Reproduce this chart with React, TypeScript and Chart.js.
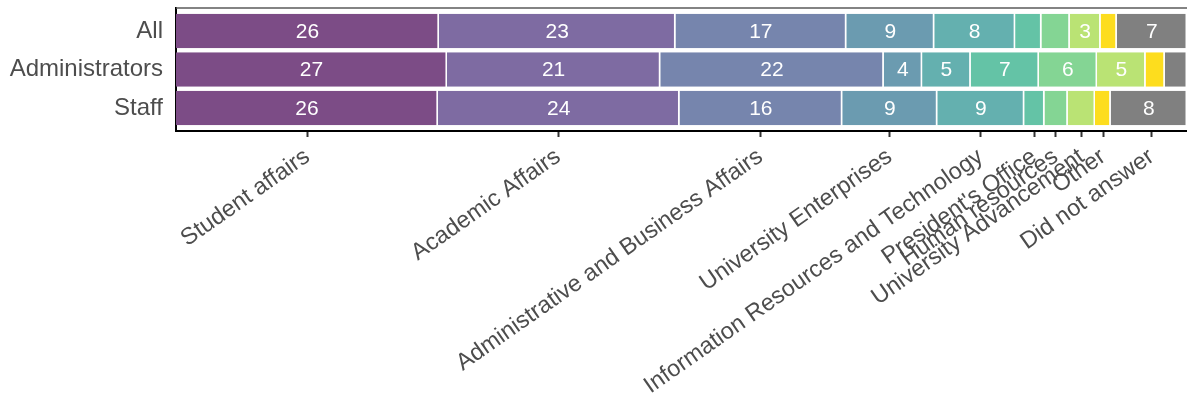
import React, { useEffect, useRef } from 'react';
import { Chart, registerables } from 'chart.js';

Chart.register(...registerables);

const FONT = '"Liberation Sans", Arial, Helvetica, sans-serif';

const groups = ['All', 'Administrators', 'Staff'];
const categories = [
  'Student affairs',
  'Academic Affairs',
  'Administrative and Business Affairs',
  'University Enterprises',
  'Information Resources and Technology',
  "President's Office",
  'Human resources',
  'University Advancement',
  'Other',
  'Did not answer',
];
const allValues = [26.0, 23.4, 16.9, 8.7, 8.0, 2.6, 2.8, 3.05, 1.6, 6.95];
const adminValues = [26.8, 21.1, 22.1, 3.8, 4.8, 6.75, 5.75, 4.8, 1.9, 2.2];
const staffValues = [25.9, 23.9, 16.1, 9.4, 8.6, 2.0, 2.3, 2.7, 1.55, 7.55];
const tickPositions = [13.0, 37.8, 57.8, 70.6, 79.6, 84.9, 87.0, 89.6, 91.7, 96.5];
const colors = [
  '#7c4c86',
  '#7e6ba2',
  '#7685ad',
  '#6b9bb0',
  '#64b0af',
  '#64c3a6',
  '#84d594',
  '#bae374',
  '#fddd1e',
  '#808080',
];
const labelMin = 3;

const groupValues = [allValues, adminValues, staffValues];

const labelPlugin = {
  id: 'barLabels',
  afterDatasetsDraw(chart: any) {
    const ctx = chart.ctx;
    ctx.save();
    ctx.font = `21px ${FONT}`;
    ctx.fillStyle = '#ffffff';
    ctx.textAlign = 'center';
    ctx.textBaseline = 'middle';
    chart.data.datasets.forEach((ds: any, i: number) => {
      const meta = chart.getDatasetMeta(i);
      meta.data.forEach((el: any, j: number) => {
        const v = ds.data[j].x;
        if (v < labelMin) return;
        const p = el.getProps(['x', 'y', 'base'], true);
        ctx.fillText(String(Math.round(v)), (p.x + p.base) / 2, p.y + 1);
      });
    });
    const a = chart.chartArea;
    ctx.strokeStyle = '#5a5a5a';
    ctx.lineWidth = 1.5;
    ctx.beginPath();
    ctx.moveTo(a.left, a.top);
    ctx.lineTo(a.right, a.top);
    ctx.stroke();
    ctx.restore();
  },
};

export default function App() {
  const ref = useRef<HTMLCanvasElement>(null);
  useEffect(() => {
    document.body.style.margin = '0';
    if (!ref.current) return;
    const datasets = categories.map((c, i) => ({
      label: c,
      data: groups.map((g, j) => ({ x: groupValues[j][i], y: j })),
      backgroundColor: colors[i],
      borderColor: '#ffffff',
      borderWidth: { top: 0, bottom: 0, left: 0, right: 1.5 },
      borderSkipped: false,
      barPercentage: 0.9,
      categoryPercentage: 1,
    }));
    const chart = new Chart(ref.current, {
      type: 'bar',
      data: { datasets } as any,
      plugins: [labelPlugin],
      options: {
        indexAxis: 'y',
        animation: false,
        responsive: true,
        maintainAspectRatio: false,
        layout: { padding: { top: 8, right: 0, bottom: 0, left: 0 } },
        plugins: { legend: { display: false }, tooltip: { enabled: false } },
        scales: {
          x: {
            type: 'linear',
            min: 0,
            max: 100,
            stacked: true,
            afterBuildTicks: (axis: any) => {
              axis.ticks = tickPositions.map((v) => ({ value: v }));
            },
            afterFit: (axis: any) => {
              axis.height = 268;
              axis.paddingLeft = 0;
              axis.paddingRight = 0;
            },
            ticks: {
              autoSkip: false,
              minRotation: 35,
              maxRotation: 35,
              color: '#4d4d4d',
              font: { family: FONT, size: 23.5 },
              padding: 6,
              callback: (_v: any, i: number) => categories[i],
            },
            grid: {
              display: true,
              drawOnChartArea: false,
              drawTicks: true,
              tickLength: 6,
              tickColor: '#333333',
              tickWidth: 2,
            },
            border: { display: true, color: '#000000', width: 2 },
          },
          y: {
            type: 'linear',
            min: -0.6,
            max: 2.6,
            offset: false,
            reverse: true,
            stacked: true,
            afterBuildTicks: (axis: any) => {
              axis.ticks = groups.map((_g, i) => ({ value: i }));
            },
            afterFit: (axis: any) => {
              axis.width = 176;
              axis.paddingTop = 0;
              axis.paddingBottom = 0;
            },
            ticks: {
              color: '#4d4d4d',
              font: { family: FONT, size: 24 },
              padding: 13,
              callback: (_v: any, i: number) => groups[i],
            },
            grid: { display: false, drawTicks: false, offset: false },
            border: { display: true, color: '#000000', width: 2 },
          },
        },
      } as any,
    });
    return () => chart.destroy();
  }, []);
  return (
    <div style={{ width: 1187, height: 399, position: 'relative' }}>
      <canvas ref={ref} />
    </div>
  );
}
